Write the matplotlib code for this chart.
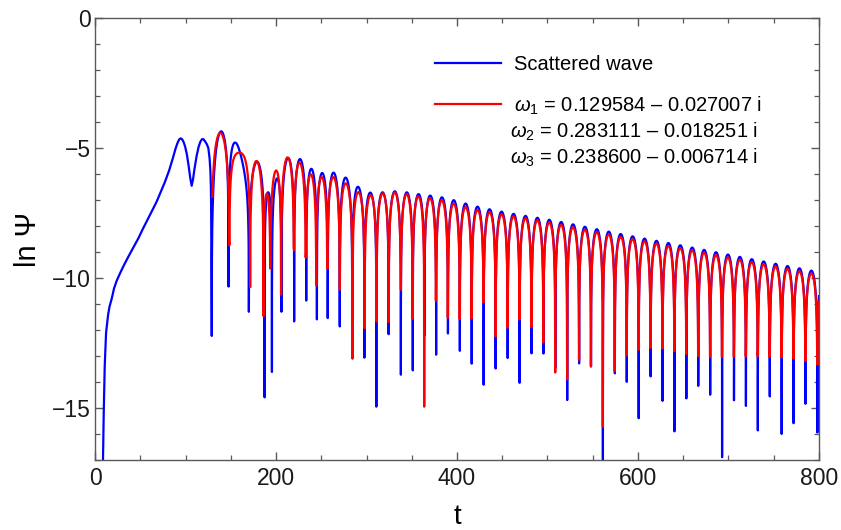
import numpy as np
import matplotlib
matplotlib.use("Agg")
import matplotlib.pyplot as plt
from matplotlib.ticker import MultipleLocator

plt.rcParams['font.family'] = ['Liberation Sans', 'DejaVu Sans']
plt.rcParams['mathtext.fontset'] = 'custom'
plt.rcParams['mathtext.rm'] = 'Liberation Sans'
plt.rcParams['mathtext.it'] = 'Liberation Sans:italic'

# quasinormal frequencies quoted in the legend (omega = Re - i |Im|)
omega_re = np.array([0.129584, 0.283111, 0.238600])
omega_im = np.array([-0.027007, -0.018251, -0.006714])

# early part of the scattered wave (t, ln Psi)
t_early = [8.8, 9.6, 10.7, 12.2, 14.5, 16.0, 18.4, 21.0, 24.0, 27.6, 32.0, 36.8,
           42.0, 47.9, 53.0, 58.9, 63.5, 68.1, 72.5, 77.3, 82.0, 86.5, 89.0, 91.2,
           93.0, 94.5, 96.2, 98.0, 99.6, 101.5, 103.5, 105.2, 106.8, 108.3, 110.0,
           112.3, 114.5, 116.5, 118.2, 119.8, 121.5, 123.5, 125.2, 126.6, 127.5,
           128.0, 128.3]
ln_early = [-17.0, -15.2, -13.4, -12.1, -11.4, -11.1, -10.8, -10.4, -10.1, -9.82,
            -9.50, -9.18, -8.85, -8.47, -8.10, -7.70, -7.38, -7.06, -6.70, -6.30,
            -5.85, -5.33, -5.02, -4.80, -4.67, -4.63, -4.66, -4.78, -4.95, -5.25,
            -5.70, -6.15, -6.45, -6.20, -5.78, -5.30, -4.95, -4.75, -4.66, -4.66,
            -4.74, -4.85, -5.00, -5.40, -5.90, -6.45, -7.20]

# zeros of Psi (bottoms of the downward spikes)
t_zeros_blue = [128.5, 149.9, 171.6, 189.0, 195.9, 207.0, 220.2, 233.5, 245.3, 257.5]
t_zeros_red = [129.0, 149.5, 171.6, 186.7, 194.5, 206.4, 219.9, 233.5, 245.3, 257.5]

# local maxima of ln|Psi|
t_peaks_blue = [139.2, 160.2, 179.3, 193.4, 201.5, 214.7, 226.5, 238.7, 250.5, 262.7,
                276.0, 290.0, 303.9, 317.5, 331.5, 345.0, 357.6, 370.0, 383.4, 396.0,
                408.8, 422.4, 435.7, 449.4, 462.2, 475.9, 489.2, 502.0, 515.7, 528.5,
                541.8, 554.3, 567.2, 580.0, 593.8, 607.0, 619.9, 632.8, 646.4, 659.3,
                672.2, 685.0, 699.0, 712.0, 725.0, 738.5, 751.4, 765.0, 778.0, 792.0]
ln_peaks_blue = [-4.46, -5.10, -5.87, -6.90, -5.82, -5.20, -5.30, -5.65, -5.80, -5.89,
                 -6.23, -6.59, -6.74, -6.69, -6.64, -6.68, -6.72, -6.77, -6.85, -7.00,
                 -7.12, -7.26, -7.35, -7.45, -7.54, -7.58, -7.67, -7.77, -7.90, -7.94,
                 -8.03, -8.13, -8.22, -8.31, -8.38, -8.47, -8.56, -8.70, -8.73, -8.82,
                 -8.94, -9.03, -9.12, -9.22, -9.31, -9.44, -9.48, -9.56, -9.67, -9.76]
t_peaks_red = [139.2, 160.2, 177.9, 190.4, 200.0, 214.7, 226.5, 238.7, 250.5, 262.3,
               276.0, 290.0, 303.9, 317.5, 331.5, 345.0, 357.6, 370.0, 383.4, 396.0,
               408.8, 422.4, 435.7, 449.4, 462.2, 475.9, 489.2, 502.0, 515.7, 528.5,
               541.8, 554.3, 567.2, 580.0, 593.8, 607.0, 619.9, 632.8, 646.4, 659.3,
               672.2, 685.0, 699.0, 712.0, 725.0, 738.5, 751.4, 765.0, 778.0, 792.0]
ln_peaks_red = [-4.46, -5.10, -5.46, -6.72, -5.95, -5.40, -5.56, -6.04, -6.10, -6.13,
                -6.36, -6.70, -6.85, -6.80, -6.75, -6.78, -6.82, -6.87, -6.95, -7.10,
                -7.22, -7.36, -7.45, -7.55, -7.64, -7.68, -7.77, -7.87, -8.00, -8.04,
                -8.13, -8.23, -8.32, -8.41, -8.48, -8.57, -8.66, -8.78, -8.83, -8.92,
                -9.03, -9.13, -9.22, -9.32, -9.41, -9.52, -9.58, -9.66, -9.77, -9.86]

omega_labels = [r'$\omega_1$ = 0.129584 – 0.027007 i',
                r'$\omega_2$ = 0.283111 – 0.018251 i',
                r'$\omega_3$ = 0.238600 – 0.006714 i']


def basis(t):
    """Damped cos/sin for each mode, and their time derivatives."""
    t = np.atleast_1d(np.asarray(t, dtype=float))[:, None]
    env = np.exp(omega_im * t)
    c, s = np.cos(omega_re * t), np.sin(omega_re * t)
    F = np.hstack([env * c, env * s])
    dF = np.hstack([env * (omega_im * c - omega_re * s),
                    env * (omega_im * s + omega_re * c)])
    return F, dF


def linear_fit(tp, hp, tz):
    # alternating-sign peaks with Psi' = 0 there, plus Psi = 0 at the dips
    w_mid = omega_re[2]
    rows, rhs = [], []
    sign = 1.0
    for ti, hi in zip(tp, hp):
        F, dF = basis(ti)
        k = np.exp(-hi)
        rows.append(F[0] * k); rhs.append(sign)
        rows.append(dF[0] * k / w_mid**2 * 0.4); rhs.append(0.0)
        sign = -sign
    for ti in tz:
        F, _ = basis(ti)
        k = np.exp(-np.interp(ti, tp, hp))
        rows.append(F[0] * k / w_mid * 0.4); rhs.append(0.0)
    coef, *_ = np.linalg.lstsq(np.array(rows), np.array(rhs), rcond=None)
    return coef


# ---- refine: match actual peak heights / positions of ln|Psi| (Levenberg-Marquardt)
t_fine = np.arange(124.0, 800.0, 0.02)
F_fine = basis(t_fine)[0]


def to_coef(p):
    amp, ph = np.exp(p[:3]), p[3:]
    return np.r_[amp * np.cos(ph), amp * np.sin(ph)]


def to_params(coef):
    return np.r_[np.log(np.hypot(coef[:3], coef[3:])), np.arctan2(coef[3:], coef[:3])]


def zero_near(psi, idx, ti):
    s = np.sign(psi[idx])
    ch = np.nonzero(s[:-1] != s[1:])[0]
    if ch.size == 0:
        return None
    k = ch[np.argmin(np.abs(t_fine[idx[ch]] - ti))] + idx[0]
    return t_fine[k] - psi[k] * 0.02 / (psi[k + 1] - psi[k])


def make_residuals(tp, hp, tz):
    win_p = [np.nonzero((t_fine > ti - 4.5) & (t_fine < ti + 4.5))[0] for ti in tp]
    win_z = [np.nonzero((t_fine > ti - 3.5) & (t_fine < ti + 3.5))[0] for ti in tz]
    sig_z = [0.25] + [0.7] * (len(tz) - 1)

    def res(p):
        psi = F_fine @ to_coef(p)
        lg = np.log(np.abs(psi) + 1e-300)
        out = []
        for ti, hi, idx in zip(tp, hp, win_p):
            j = idx[0] + np.argmax(lg[idx])
            j = min(max(j, idx[0] + 1), idx[-1] - 1)
            y0, y1, y2 = lg[j - 1], lg[j], lg[j + 1]
            den = y0 - 2 * y1 + y2
            d = 0.5 * (y0 - y2) / den if den < 0 else 0.0
            tm = t_fine[j] + d * 0.02
            hm = y1 - 0.25 * (y0 - y2) * d
            out += [(hm - hi) / 0.06, (tm - ti) / 0.7]
        for ti, idx, sg in zip(tz, win_z, sig_z):
            tzm = zero_near(psi, idx, ti)
            out.append(5.0 if tzm is None else (tzm - ti) / sg)
        return np.array(out)
    return res


def refine(coef, tp, hp, tz, iters=60):
    res = make_residuals(tp, hp, tz)
    p = to_params(coef)
    r = res(p)
    cost = r @ r
    lam = 1e-2
    for _ in range(iters):
        J = np.empty((r.size, p.size))
        for k in range(p.size):
            dp = np.zeros_like(p)
            dp[k] = 1e-5
            J[:, k] = (res(p + dp) - r) / 1e-5
        A, g = J.T @ J, J.T @ r
        while lam < 1e9:
            step = np.linalg.solve(A + lam * np.diag(np.diag(A) + 1e-9), -g)
            r_new = res(p + step)
            if r_new @ r_new < cost:
                p, r, cost = p + step, r_new, r_new @ r_new
                lam *= 0.3
                break
            lam *= 8
        else:
            break
    return to_coef(p)


coef_blue = refine(linear_fit(t_peaks_blue, ln_peaks_blue, t_zeros_blue),
                   t_peaks_blue, ln_peaks_blue, t_zeros_blue)
coef_red = refine(linear_fit(t_peaks_red, ln_peaks_red, t_zeros_red),
                  t_peaks_red, ln_peaks_red, t_zeros_red)

# join the hand-read early curve to the mode sum at the first zero crossing
psi_fine = F_fine @ coef_blue
t0 = zero_near(psi_fine, np.nonzero((t_fine > 125) & (t_fine < 132))[0], t_zeros_blue[0])
t_head = np.array(t_early)
keep = t_head < t0 - 0.15
t_blue = t0 + 0.012 + np.arange(0.0, 800.0 - t0, 0.05)
ln_blue = np.log(np.abs(basis(t_blue)[0] @ coef_blue))
t_red = np.arange(129.7, 800.001, 0.28)
ln_red = np.log(np.abs(basis(t_red)[0] @ coef_red))

fig = plt.figure(figsize=(8.41, 5.30), dpi=100)
ax = fig.add_axes([0.113, 0.132, 0.8608, 0.834])

ax.plot(np.r_[t_head[keep], t_blue], np.r_[np.array(ln_early)[keep], ln_blue],
        color='#0000ff', lw=1.6, label='Scattered wave')
ax.plot(t_red, ln_red, color='#ff0000', lw=1.6, label=omega_labels[0])

ax.set_xlim(0, 800)
ax.set_ylim(-17, 0)
ax.xaxis.set_major_locator(MultipleLocator(200))
ax.xaxis.set_minor_locator(MultipleLocator(50))
ax.yaxis.set_major_locator(MultipleLocator(5))
ax.yaxis.set_minor_locator(MultipleLocator(1))
ax.tick_params(which='both', direction='in', top=True, right=True,
               color='0.35', labelsize=16.5, labelcolor='0.1')
ax.tick_params(which='major', length=6, width=1.0)
ax.tick_params(which='minor', length=3.5, width=0.9)
ax.tick_params(axis='x', pad=5)
ax.tick_params(axis='y', pad=3)
for sp in ax.spines.values():
    sp.set_color('0.35')
    sp.set_linewidth(1.0)

ax.set_xlabel('t', fontsize=20, labelpad=10)
ax.set_ylabel('ln Ψ', fontsize=21, labelpad=7)

ax.legend(loc='upper left', bbox_to_anchor=(0.4696, 0.916), frameon=False,
          fontsize=14.5, borderpad=0, borderaxespad=0, handlelength=3.3,
          handletextpad=0.6, labelspacing=1.0)
for i, lab in enumerate(omega_labels[1:]):
    ax.text(0.9157, [0.7428, 0.6833][i], lab, transform=ax.transAxes,
            ha='right', va='center', fontsize=14.5)

fig.savefig('out.png', dpi=100)
